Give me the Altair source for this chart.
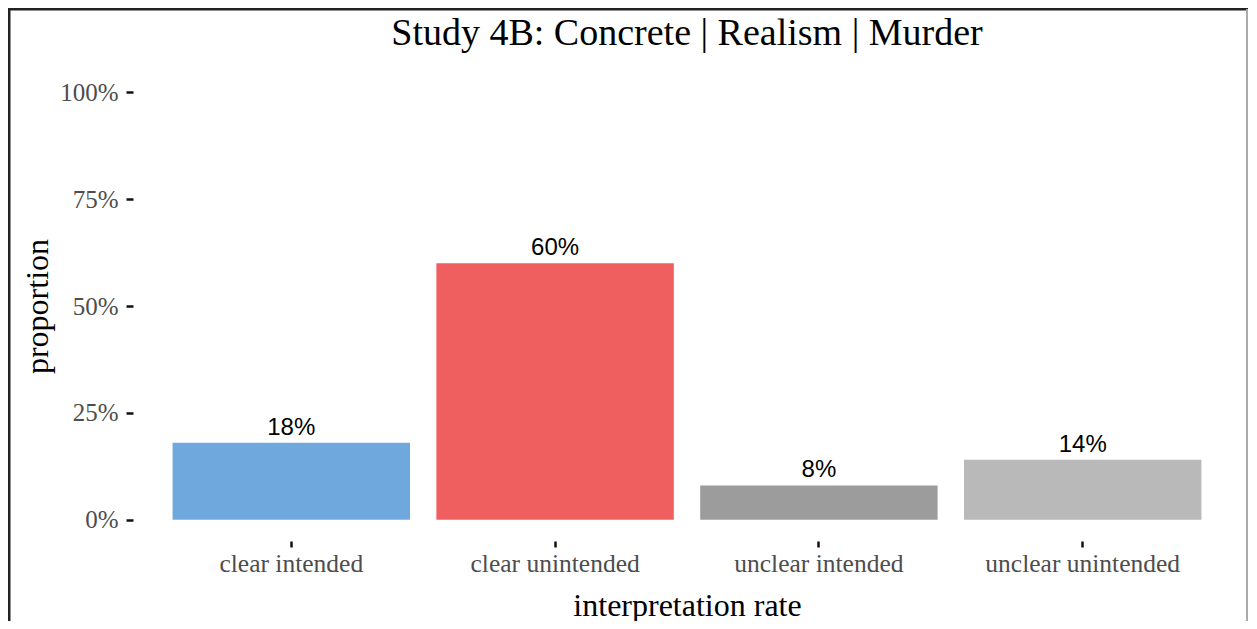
import altair as alt
import pandas as pd

categories = ["clear intended", "clear unintended", "unclear intended", "unclear unintended"]
proportions = [0.18, 0.60, 0.08, 0.14]
bar_labels = ["18%", "60%", "8%", "14%"]
bar_colors = ["#6FA8DC", "#F05F60", "#9C9C9C", "#B9B9B9"]
y_ticks = [0, 0.25, 0.5, 0.75, 1.0]
title_text = "Study 4B: Concrete | Realism | Murder"

W, H = 1108, 470

df = pd.DataFrame({
    "category": categories,
    "proportion": proportions,
    "label": bar_labels,
    "base": [0] * len(categories),
})

x_enc = alt.X(
    "category:N",
    sort=categories,
    scale=alt.Scale(paddingInner=0.1, paddingOuter=0.15),
    axis=alt.Axis(
        title="interpretation rate",
        labelAngle=0,
        labelLimit=500,
        domain=False,
        ticks=True,
        tickSize=6,
        tickWidth=2.5,
        tickColor="#111111",
        labelFont="Liberation Serif",
        labelFontSize=25.5,
        labelColor="#4d4d4d",
        labelPadding=4,
        titleFont="Liberation Serif",
        titleFontSize=32,
        titleFontWeight="normal",
        titleColor="#000000",
        titleBaseline="alphabetic",
        titleY=74,
    ),
)

y_enc = alt.Y(
    "proportion:Q",
    scale=alt.Scale(domain=[-0.05, 1.05], nice=False, zero=False),
    axis=alt.Axis(
        title="proportion",
        values=y_ticks,
        format=".0%",
        domain=False,
        grid=False,
        ticks=True,
        tickSize=7,
        tickWidth=2.5,
        tickColor="#111111",
        labelFont="Liberation Serif",
        labelFontSize=25,
        labelColor="#4d4d4d",
        labelPadding=8,
        titleFont="Liberation Serif",
        titleFontSize=32,
        titleFontWeight="normal",
        titleColor="#000000",
        titleAngle=270,
        titleBaseline="alphabetic",
        titleX=-86,
        titleY=H / 2,
        titleAlign="center",
    ),
)

bars = alt.Chart(df).mark_bar().encode(
    x=x_enc,
    y=y_enc,
    y2="base:Q",
    color=alt.Color("category:N", scale=alt.Scale(domain=categories, range=bar_colors), legend=None),
)

texts = alt.Chart(df).mark_text(
    baseline="alphabetic", dy=-8, font="Liberation Sans", fontSize=24, color="#000000"
).encode(
    x=alt.X("category:N", sort=categories),
    y=alt.Y("proportion:Q"),
    text="label:N",
)

frame_df = pd.DataFrame({"f": [0]})
left_line = alt.Chart(frame_df).mark_rule(color="#222222", strokeWidth=3).encode(
    x=alt.value(-124), y=alt.value(-62), y2=alt.value(H + 80)
)
top_line = alt.Chart(frame_df).mark_rule(color="#222222", strokeWidth=3).encode(
    x=alt.value(-125), x2=alt.value(W + 7), y=alt.value(-62)
)
right_line = alt.Chart(frame_df).mark_rule(color="#aaaaaa", strokeWidth=2).encode(
    x=alt.value(W + 6), y=alt.value(-62), y2=alt.value(H + 80)
)

chart = alt.layer(bars, texts, left_line, top_line, right_line).properties(
    width=W,
    height=H,
    background="white",
    title=alt.TitleParams(
        text=title_text,
        font="Liberation Serif",
        fontSize=38,
        fontWeight="normal",
        color="#000000",
        anchor="middle",
        baseline="alphabetic",
        offset=-38,
        dy=37,
    ),
    autosize=alt.AutoSizeParams(type="none"),
    padding={"left": 125, "top": 63, "right": 8, "bottom": 80},
).configure_view(strokeWidth=0, stroke="transparent")

chart.save("out.html", embed_options={"renderer": "svg", "actions": False})
